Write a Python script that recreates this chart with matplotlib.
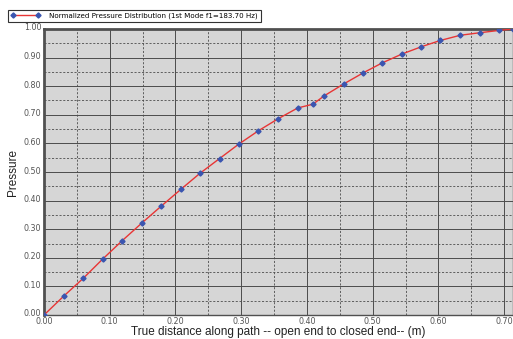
import matplotlib
matplotlib.use("Agg")
import matplotlib.pyplot as plt
import matplotlib.transforms as mtransforms
import numpy as np

# distance along the path (m) and normalized pressure at each node
dist = [0.0, 0.030, 0.060, 0.089, 0.119, 0.149, 0.178, 0.209, 0.237, 0.267,
        0.296, 0.326, 0.356, 0.386, 0.409, 0.426, 0.456, 0.485, 0.514, 0.544,
        0.574, 0.603, 0.633, 0.663, 0.692, 0.7134]
pressure = [0.0, 0.066, 0.129, 0.195, 0.260, 0.322, 0.380, 0.441, 0.495, 0.547,
            0.597, 0.644, 0.686, 0.724, 0.737, 0.766, 0.808, 0.846, 0.881, 0.912,
            0.938, 0.960, 0.978, 0.987, 0.995, 1.0]
series_name = "Normalized Pressure Distribution (1st Mode f1=183.70 Hz)"
xticks = np.arange(0, 0.71, 0.1)
yticks = np.arange(0, 1.01, 0.1)

fig = plt.figure(figsize=(5.13, 3.39), dpi=100)
ax = fig.add_axes([44/513, 24/339, (513-44)/513, (315-29)/339])
ax.set_facecolor("#d6d6d6")

ax.plot(dist, pressure, color="#e83535", lw=1.0, marker="D", ms=2.6,
        mfc="#3a55b0", mec="#3a55b0", label=series_name, zorder=3)

ax.set_xlim(0, 0.7134)
ax.set_ylim(0, 1.0)
ax.set_xticks(xticks)
ax.set_yticks(yticks)
ax.set_xticks(np.arange(0.05, 0.71, 0.1), minor=True)
ax.set_yticks(np.arange(0.05, 1.0, 0.1), minor=True)
ax.set_xticklabels(["%.2f" % v for v in xticks])
ax.set_yticklabels(["%.2f" % v for v in yticks])
ax.tick_params(which="both", length=0, labelsize=5.8, labelcolor="#555555")
ax.tick_params(axis="x", pad=1.5)
ax.tick_params(axis="y", pad=2)

# y labels sit slightly above their gridlines
shift = mtransforms.ScaledTranslation(0, 2/100, fig.dpi_scale_trans)
for lbl in ax.get_yticklabels():
    lbl.set_transform(lbl.get_transform() + shift)

ax.grid(which="major", color="#4c4c4c", lw=0.7, ls="-")
ax.grid(which="minor", color="#4c4c4c", lw=0.6, ls=(0, (2.5, 2)))
ax.set_axisbelow(True)

for side in ["top", "left"]:
    ax.spines[side].set_color("#505050")
    ax.spines[side].set_linewidth(2)
for side in ["bottom", "right"]:
    ax.spines[side].set_color("#505050")
    ax.spines[side].set_linewidth(1)

ax.set_xlabel("True distance along path -- open end to closed end-- (m)",
              fontsize=8.5, family="Liberation Sans", color="#222222", labelpad=0)
ax.set_ylabel("Pressure", fontsize=8.5, family="Liberation Sans",
              color="#222222", labelpad=3)

leg = fig.legend(loc="upper left", bbox_to_anchor=(8/513, 1 - 10/339),
                 fontsize=5.1, fancybox=False, edgecolor="#333333",
                 borderpad=0.4, handlelength=4.2, handletextpad=1.2,
                 numpoints=2, borderaxespad=0, framealpha=1)
leg.get_frame().set_linewidth(0.8)

fig.savefig("out.png", dpi=100)
